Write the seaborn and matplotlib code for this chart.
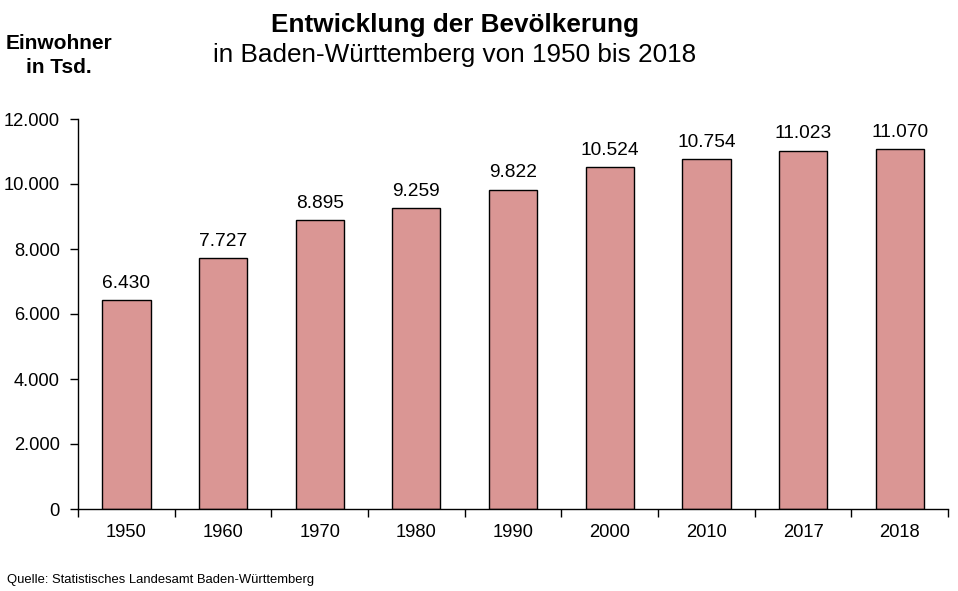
import matplotlib
matplotlib.use("Agg")
import matplotlib.pyplot as plt
import seaborn as sns
import pandas as pd
import numpy as np

years = ["1950", "1960", "1970", "1980", "1990", "2000", "2010", "2017", "2018"]
population = [6430, 7727, 8895, 9259, 9822, 10524, 10754, 11023, 11070]
value_labels = ["6.430", "7.727", "8.895", "9.259", "9.822", "10.524", "10.754", "11.023", "11.070"]
y_ticks = [0, 2000, 4000, 6000, 8000, 10000, 12000]
y_tick_labels = ["0", "2.000", "4.000", "6.000", "8.000", "10.000", "12.000"]

sns.set_style("white")
plt.rcParams['font.family'] = ['Liberation Sans', 'DejaVu Sans']
plt.rcParams['text.color'] = 'black'
plt.rcParams['xtick.color'] = 'black'
plt.rcParams['ytick.color'] = 'black'
plt.rcParams['axes.labelcolor'] = 'black'

df = pd.DataFrame({"Jahr": years, "Einwohner": population})

fig = plt.figure(figsize=(9.58, 5.91), dpi=100)
ax = fig.add_axes([78/958, 1-509/591, 870/958, 390/591])

sns.barplot(data=df, x="Jahr", y="Einwohner", color="#DA9694", saturation=1,
            width=0.5, edgecolor="black", linewidth=1.0, ax=ax)

ax.set_xlim(-0.5, len(years)-0.5)
ax.set_ylim(0, 12000)
ax.set_yticks(y_ticks)
ax.set_yticklabels(y_tick_labels, fontsize=13.2)
ax.set_xlabel("")
ax.set_ylabel("")

# x ticks at category boundaries
ax.set_xticks(np.arange(len(years) + 1) - 0.5, minor=False)
ax.set_xticklabels([])
ax.set_xticks(np.arange(len(years)), minor=True)
ax.set_xticklabels(years, minor=True, fontsize=13.2)
ax.tick_params(axis="x", which="both", bottom=True)
ax.tick_params(axis="x", which="minor", length=0, pad=10.5)
ax.tick_params(axis="x", which="major", length=6, width=1, color="black", direction="out")
ax.tick_params(axis="y", left=True, length=6, width=1, color="black", direction="out", pad=7)

for s in ["top", "right"]:
    ax.spines[s].set_visible(False)
for s in ["left", "bottom"]:
    ax.spines[s].set_color("black")
    ax.spines[s].set_linewidth(1)

for i, (v, lab) in enumerate(zip(population, value_labels)):
    ax.annotate(lab, (i, v), xytext=(0, 6), textcoords="offset points",
                ha="center", va="bottom", fontsize=13.8)

fig.text(455/958, 1-32/591, "Entwicklung der Bevölkerung", ha="center", va="baseline",
         fontsize=18.8, fontweight="bold")
fig.text(455/958, 1-62/591, "in Baden-Württemberg von 1950 bis 2018", ha="center", va="baseline",
         fontsize=18.8)
fig.text(59/958, 1-49/591, "Einwohner", ha="center", va="baseline", fontsize=15, fontweight="bold")
fig.text(59/958, 1-73/591, "in Tsd.", ha="center", va="baseline", fontsize=15, fontweight="bold")
fig.text(7/958, 1-583/591, "Quelle: Statistisches Landesamt Baden-Württemberg", ha="left",
         va="baseline", fontsize=9.4)

fig.savefig("out.png", dpi=100, facecolor="white")
